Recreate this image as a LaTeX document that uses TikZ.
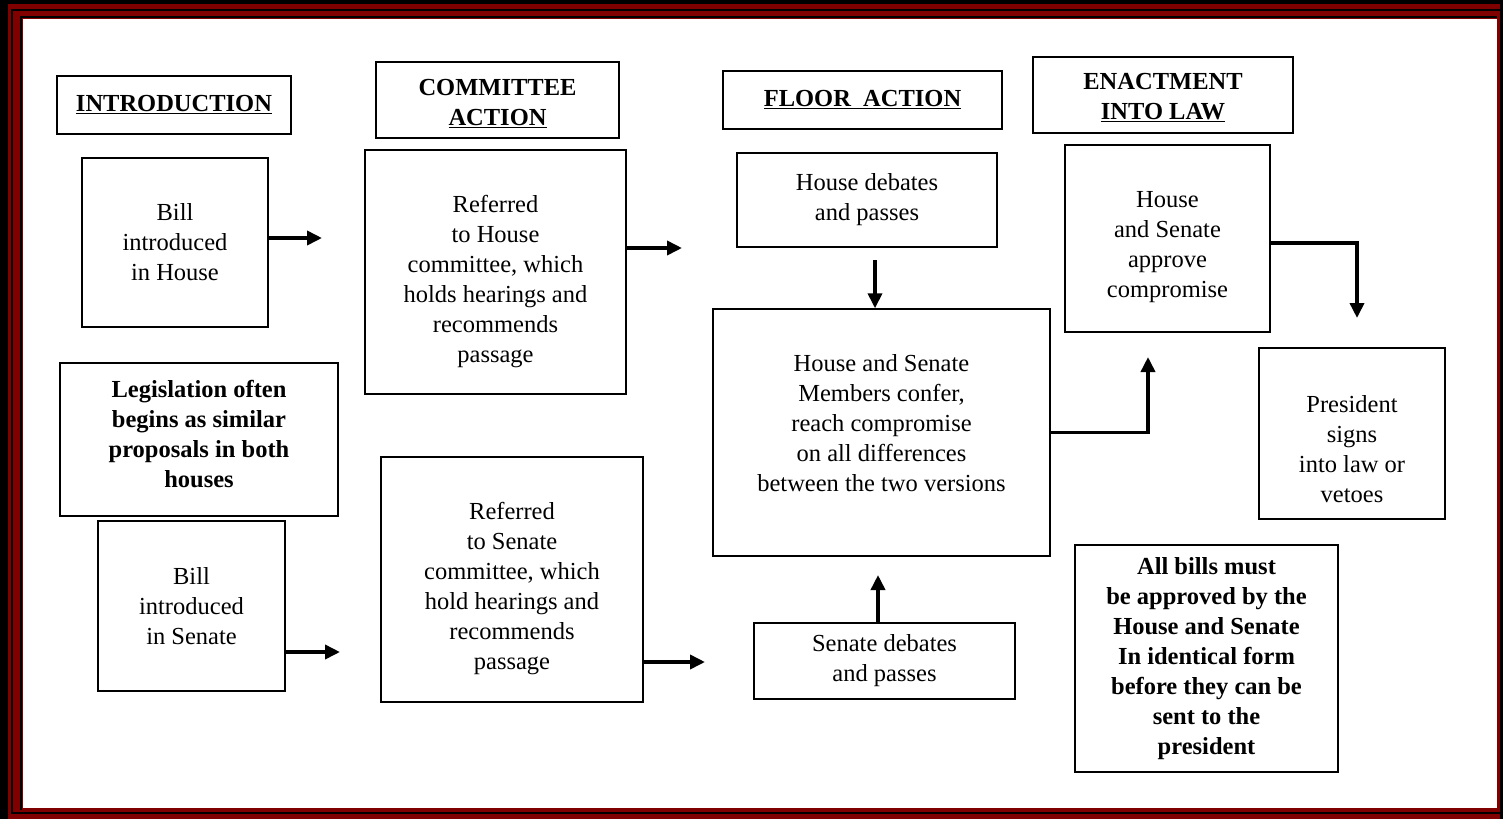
\documentclass[tikz,border=0pt]{standalone}
\usepackage{fontspec}
\setmainfont{Liberation Serif}
\usetikzlibrary{arrows.meta}
\definecolor{frame red}{RGB}{128,0,0}
\begin{document}
\begin{tikzpicture}[x=1pt, y=-1pt,
  box/.style={draw, line width=1.4pt, align=center, inner sep=0pt,
    font=\fontsize{24.5}{30}\selectfont},
  bbox/.style={box, font=\fontsize{24.5}{30}\selectfont\bfseries},
  arr/.style={line width=3.6pt, -{Triangle[length=15pt, width=14pt]}}]
  \useasboundingbox (0,0) rectangle (1503,819);
  \fill[black] (0,0) rectangle (1503,819);
  \fill[frame red] (8,4) rectangle (1500,819);
  \draw[black, line width=2pt] (12,10) rectangle (1502,813);
  \draw[black, line width=2pt] (21,810) -- (21,17) -- (1497,17);
  \fill[white] (23,19) rectangle (1497,808);

  \node (intro) [bbox, minimum width=234, minimum height=58] at (174,105) {\underline{INTRODUCTION}};
  \node (comm) [bbox, minimum width=243, minimum height=76, text height=54pt] at (497.5,100) {COMMITTEE\\\underline{ACTION}};
  \node (floor) [bbox, minimum width=279, minimum height=58] at (862.5,100) {\underline{FLOOR\ \ ACTION}};
  \node (enact) [bbox, minimum width=260, minimum height=76, text height=52pt] at (1163,95) {ENACTMENT\\\underline{INTO LAW}};

  \node (billH) [box, minimum width=186, minimum height=169] at (175,242.5) {Bill\\introduced\\in House};
  \node (refH) [box, minimum width=261, minimum height=244, text height=187pt] at (495.5,272) {Referred\\to House\\committee, which\\holds hearings and\\recommends\\passage};
  \node (hDeb) [box, minimum width=260, minimum height=94] at (867,200) {House debates\\and passes};
  \node (appr) [box, minimum width=205, minimum height=187, text height=124pt] at (1167.5,238.5) {House\\and Senate\\approve\\compromise};
  \node (legis) [bbox, minimum width=278, minimum height=153, text height=97pt] at (199,439.5) {Legislation often\\begins as similar\\proposals in both\\houses};
  \node (billS) [box, minimum width=187, minimum height=170] at (191.5,606) {Bill\\introduced\\in Senate};
  \node (refS) [box, minimum width=262, minimum height=245, text height=185pt] at (512,579.5) {Referred\\to Senate\\committee, which\\hold hearings and\\recommends\\passage};
  \node (conf) [box, minimum width=337, minimum height=247, text height=119pt] at (881.5,432.5) {House and Senate\\Members confer,\\reach compromise\\on all differences\\between the two versions};
  \node (pres) [box, minimum width=186, minimum height=171, text height=139pt] at (1352,433.5) {President\\signs\\into law or\\vetoes};
  \node (sDeb) [box, minimum width=261, minimum height=76] at (884.5,661) {Senate debates\\and passes};
  \node (allB) [bbox, minimum width=263, minimum height=227] at (1206.5,658.5) {All bills must\\be approved by the\\House and Senate\\In identical form\\before they can be\\sent to the\\president};

  \coordinate (bhHead) at (322,238);
  \coordinate (rhHead) at (682,248);
  \coordinate (bsHead) at (340,652);
  \coordinate (rsHead) at (705,662);
  \coordinate (hdTail) at (875,260);
  \coordinate (sdHead) at (878,575);
  \coordinate (cfHead) at (1148,357);
  \coordinate (apHead) at (1357,318);

  \draw[arr] (billH.east |- bhHead) -- (bhHead);
  \draw[arr] (refH.east |- rhHead) -- (rhHead);
  \draw[arr] (billS.east |- bsHead) -- (bsHead);
  \draw[arr] (refS.east |- rsHead) -- (rsHead);
  \draw[arr] (hdTail) -- (hdTail |- conf.north);
  \draw[arr] (sdHead |- sDeb.north) -- (sdHead);
  \draw[arr] (conf.east) -| (cfHead);
  \draw[arr] (appr.east |- 0,243) -| (apHead);
\end{tikzpicture}
\end{document}
